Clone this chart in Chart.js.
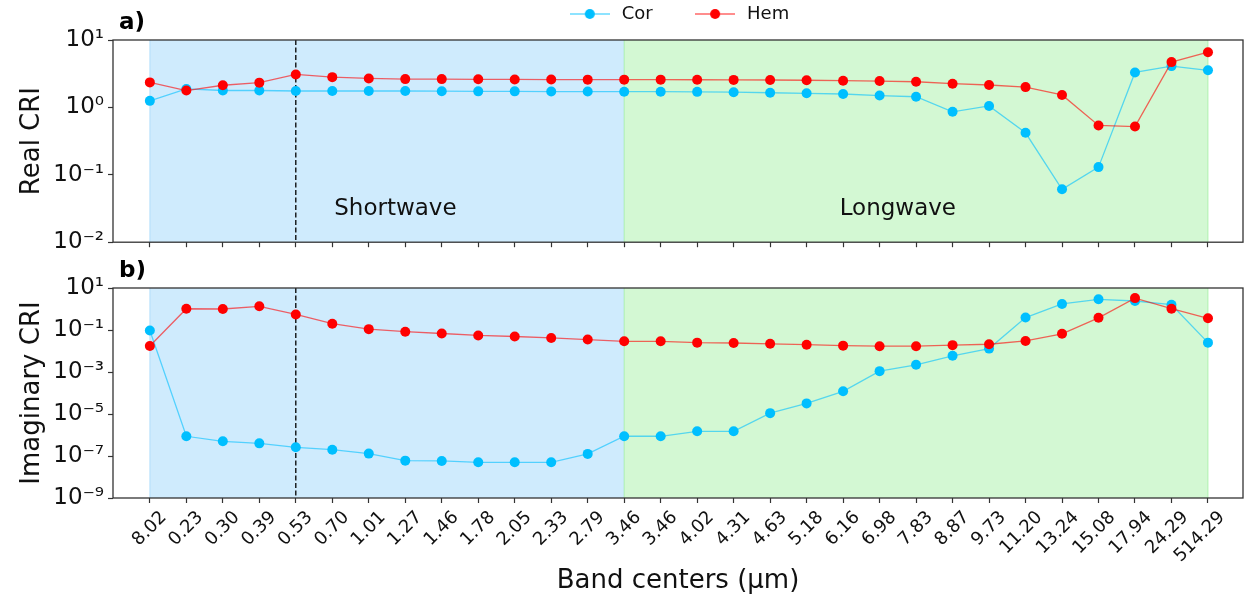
<!DOCTYPE html>
<html>
<head>
<meta charset="utf-8">
<script src="https://cdn.jsdelivr.net/npm/chart.js@4.4.0/dist/chart.umd.min.js"></script>
<style>
body{margin:0;background:#fff;}
#topChart{position:absolute;left:0;top:0;}
#botChart{position:absolute;left:0;top:260px;}
</style>
</head>
<body>
<canvas id="topChart" width="1248" height="260"></canvas>
<canvas id="botChart" width="1248" height="338"></canvas>
<script>
var bands = ['8.02','0.23','0.30','0.39','0.53','0.70','1.01','1.27','1.46','1.78','2.05','2.33','2.79','3.46',
             '3.46','4.02','4.31','4.63','5.18','6.16','6.98','7.83','8.87','9.73','11.20','13.24','15.08','17.94','24.29','514.29'];
var corReal = [1.25,1.88,1.78,1.78,1.75,1.75,1.75,1.75,1.74,1.73,1.73,1.72,1.72,1.71,
               1.71,1.70,1.68,1.65,1.62,1.58,1.50,1.44,0.86,1.05,0.42,0.061,0.13,3.3,4.1,3.55];
var hemReal = [2.35,1.78,2.13,2.33,3.08,2.81,2.69,2.63,2.63,2.61,2.60,2.59,2.58,2.58,
               2.58,2.57,2.56,2.55,2.53,2.49,2.46,2.40,2.25,2.15,2.0,1.53,0.54,0.52,4.7,6.6];
var corImag = [0.095,8.7e-7,5e-7,4e-7,2.6e-7,2.0e-7,1.3e-7,6e-8,5.8e-8,5e-8,5e-8,5e-8,1.26e-7,8.7e-7,
               8.7e-7,1.5e-6,1.5e-6,1.1e-5,3.2e-5,1.2e-4,1.1e-3,2.2e-3,5.9e-3,0.013,0.39,1.74,2.9,2.4,1.6,0.025];
var hemImag = [0.0174,1.03,1.0,1.34,0.55,0.2,0.11,0.083,0.068,0.055,0.049,0.042,0.035,0.029,
               0.029,0.025,0.024,0.022,0.02,0.018,0.017,0.017,0.019,0.021,0.03,0.066,0.38,3.3,1.03,0.36];
var topTicks = [10,1,0.1,0.01];
var botTicks = [10,0.1,1e-3,1e-5,1e-7,1e-9];
var lwStart = 13;   // first longwave band
var dashAt = 4;     // dashed marker line
var regions = [{text:'Shortwave', x:6.73, y:0.031},{text:'Longwave', x:20.5, y:0.031}];

var FONT = '"DejaVu Sans", sans-serif';
var corCol = '#00bfff', hemCol = '#ff0000';
var corLine = 'rgba(0,191,255,0.6)', hemLine = 'rgba(255,0,0,0.6)';

var sup = {'0':'\u2070','1':'\u00b9','2':'\u00b2','3':'\u00b3','4':'\u2074','5':'\u2075','6':'\u2076','7':'\u2077','8':'\u2078','9':'\u2079','-':'\u207b'};
function powLabel(v){
    var e = Math.round(Math.log10(v));
    return '10' + String(e).split('').map(function(c){return sup[c];}).join('');
}

function legendIcon(line, col){
    var c = document.createElement('canvas');
    c.width = 40; c.height = 14;
    var g = c.getContext('2d');
    g.strokeStyle = line; g.lineWidth = 1.3;
    g.beginPath(); g.moveTo(0,7); g.lineTo(40,7); g.stroke();
    g.fillStyle = col;
    g.beginPath(); g.arc(20,7,5,0,Math.PI*2); g.fill();
    return c;
}
var icons = [legendIcon(corLine,corCol), legendIcon(hemLine,hemCol)];

function ds(label, data, col, line, ord){
    return {
        label: label,
        data: data.map(function(v,i){return {x:i, y:v};}),
        borderColor: line, backgroundColor: col,
        pointBackgroundColor: col, pointBorderColor: col,
        pointRadius: 5, pointHoverRadius: 5, pointBorderWidth: 0,
        borderWidth: 1.3, tension: 0, order: ord
    };
}

var panelPlugin = {
    id: 'panel',
    beforeDatasetsDraw: function(chart, args, opts){
        var ctx = chart.ctx, a = chart.chartArea, x = chart.scales.x, y = chart.scales.y;
        var x0 = x.getPixelForValue(0), x1 = x.getPixelForValue(lwStart), x2 = x.getPixelForValue(bands.length-1);
        var h = a.bottom - a.top;
        ctx.save();
        ctx.fillStyle = 'rgba(135,206,250,0.4)';
        ctx.fillRect(x0, a.top, x1-x0, h);
        ctx.fillStyle = 'rgba(144,238,144,0.4)';
        ctx.fillRect(x1, a.top, x2-x1, h);
        ctx.lineWidth = 1;
        ctx.strokeStyle = 'rgba(135,206,250,0.5)';
        ctx.beginPath(); ctx.moveTo(x0,a.top); ctx.lineTo(x0,a.bottom); ctx.stroke();
        ctx.strokeStyle = 'rgba(144,238,144,0.6)';
        ctx.beginPath(); ctx.moveTo(x1,a.top); ctx.lineTo(x1,a.bottom); ctx.moveTo(x2,a.top); ctx.lineTo(x2,a.bottom); ctx.stroke();
        var xd = x.getPixelForValue(dashAt);
        ctx.strokeStyle = '#000'; ctx.lineWidth = 1.3; ctx.setLineDash([5,2.5]);
        ctx.beginPath(); ctx.moveTo(xd,a.top); ctx.lineTo(xd,a.bottom); ctx.stroke();
        ctx.setLineDash([]);
        ctx.strokeStyle = '#333'; ctx.lineWidth = 1.3;
        ctx.strokeRect(a.left, a.top, a.right-a.left, h);
        ctx.fillStyle = '#000';
        ctx.textBaseline = 'middle';
        ctx.textAlign = 'left';
        ctx.font = 'bold 23px ' + FONT;
        ctx.fillText(opts.label, a.left + 6, a.top - 17);
        if (opts.regions) {
            ctx.font = '23px ' + FONT;
            ctx.textAlign = 'center';
            ctx.fillStyle = '#111';
            regions.forEach(function(r){
                ctx.fillText(r.text, x.getPixelForValue(r.x), y.getPixelForValue(r.y));
            });
        }
        ctx.restore();
    }
};

function xAxis(showLabels, h){
    return {
        type: 'linear', min: -1.01, max: 29.96,
        afterBuildTicks: function(s){ s.ticks = bands.map(function(b,i){return {value:i};}); },
        afterFit: function(s){ s.height = h; },
        grid: {drawOnChartArea: false, tickLength: 5, color: '#333', tickWidth: 1.2},
        border: {display: false},
        ticks: {display: showLabels, autoSkip: false, maxRotation: 45, minRotation: 45, labelOffset: 14, padding: 4,
                font: {family: FONT, size: 18}, color: '#111',
                callback: function(v){ return bands[v]; }},
        title: {display: showLabels, text: 'Band centers (\u03bcm)', font: {family: FONT, size: 26}, color: '#111', padding: {top:0, bottom:1}}
    };
}
function yAxis(mn, mx, ticks, title){
    return {
        type: 'logarithmic', min: mn, max: mx,
        afterBuildTicks: function(s){ s.ticks = ticks.map(function(v){return {value:v};}); },
        afterFit: function(s){ s.width = 113; },
        grid: {drawOnChartArea: false, tickLength: 5, color: '#333', tickWidth: 1.2},
        border: {display: false},
        ticks: {font: {family: FONT, size: 23}, color: '#111', padding: 4, callback: function(v){ return powLabel(v); }},
        title: {display: true, text: title, font: {family: FONT, size: 26}, color: '#111', padding: {top: 17, bottom: 0}}
    };
}

new Chart(document.getElementById('topChart'), {
    type: 'line',
    data: {datasets: [ds('Cor', corReal, corCol, corLine, 1), ds('Hem', hemReal, hemCol, hemLine, 0)]},
    options: {
        responsive: false, animation: false, devicePixelRatio: 1,
        layout: {padding: {top: 0, right: 3, left: 0, bottom: 0}},
        plugins: {
            legend: {display: true, position: 'top', fullSize: false, align: 'center',
                labels: {usePointStyle: true, pointStyleWidth: 46, padding: 5, color: '#111',
                    font: {family: FONT, size: 18},
                    sort: function(a,b){ return a.datasetIndex - b.datasetIndex; },
                    generateLabels: function(chart){
                        var items = Chart.defaults.plugins.legend.labels.generateLabels(chart);
                        items.forEach(function(it){
                            it.pointStyle = icons[it.datasetIndex];
                            if (it.datasetIndex === 0) it.text = it.text + '      ';
                        });
                        return items;
                    }}},
            tooltip: {enabled: false},
            panel: {label: 'a)', regions: true}
        },
        scales: {
            x: xAxis(false, 13),
            xt: {type: 'linear', position: 'top', display: true, afterFit: function(s){ s.height = 7; },
                 grid: {display: false}, border: {display: false}, ticks: {display: false}},
            y: yAxis(0.01, 10, topTicks, 'Real CRI')
        }
    },
    plugins: [panelPlugin]
});

new Chart(document.getElementById('botChart'), {
    type: 'line',
    data: {datasets: [ds('Cor', corImag, corCol, corLine, 1), ds('Hem', hemImag, hemCol, hemLine, 0)]},
    options: {
        responsive: false, animation: false, devicePixelRatio: 1,
        layout: {padding: {top: 28, right: 3, left: 0, bottom: 0}},
        plugins: {legend: {display: false}, tooltip: {enabled: false}, panel: {label: 'b)', regions: false}},
        scales: {
            x: xAxis(true, 100),
            y: yAxis(1e-9, 10, botTicks, 'Imaginary CRI')
        }
    },
    plugins: [panelPlugin]
});
</script>
</body>
</html>
